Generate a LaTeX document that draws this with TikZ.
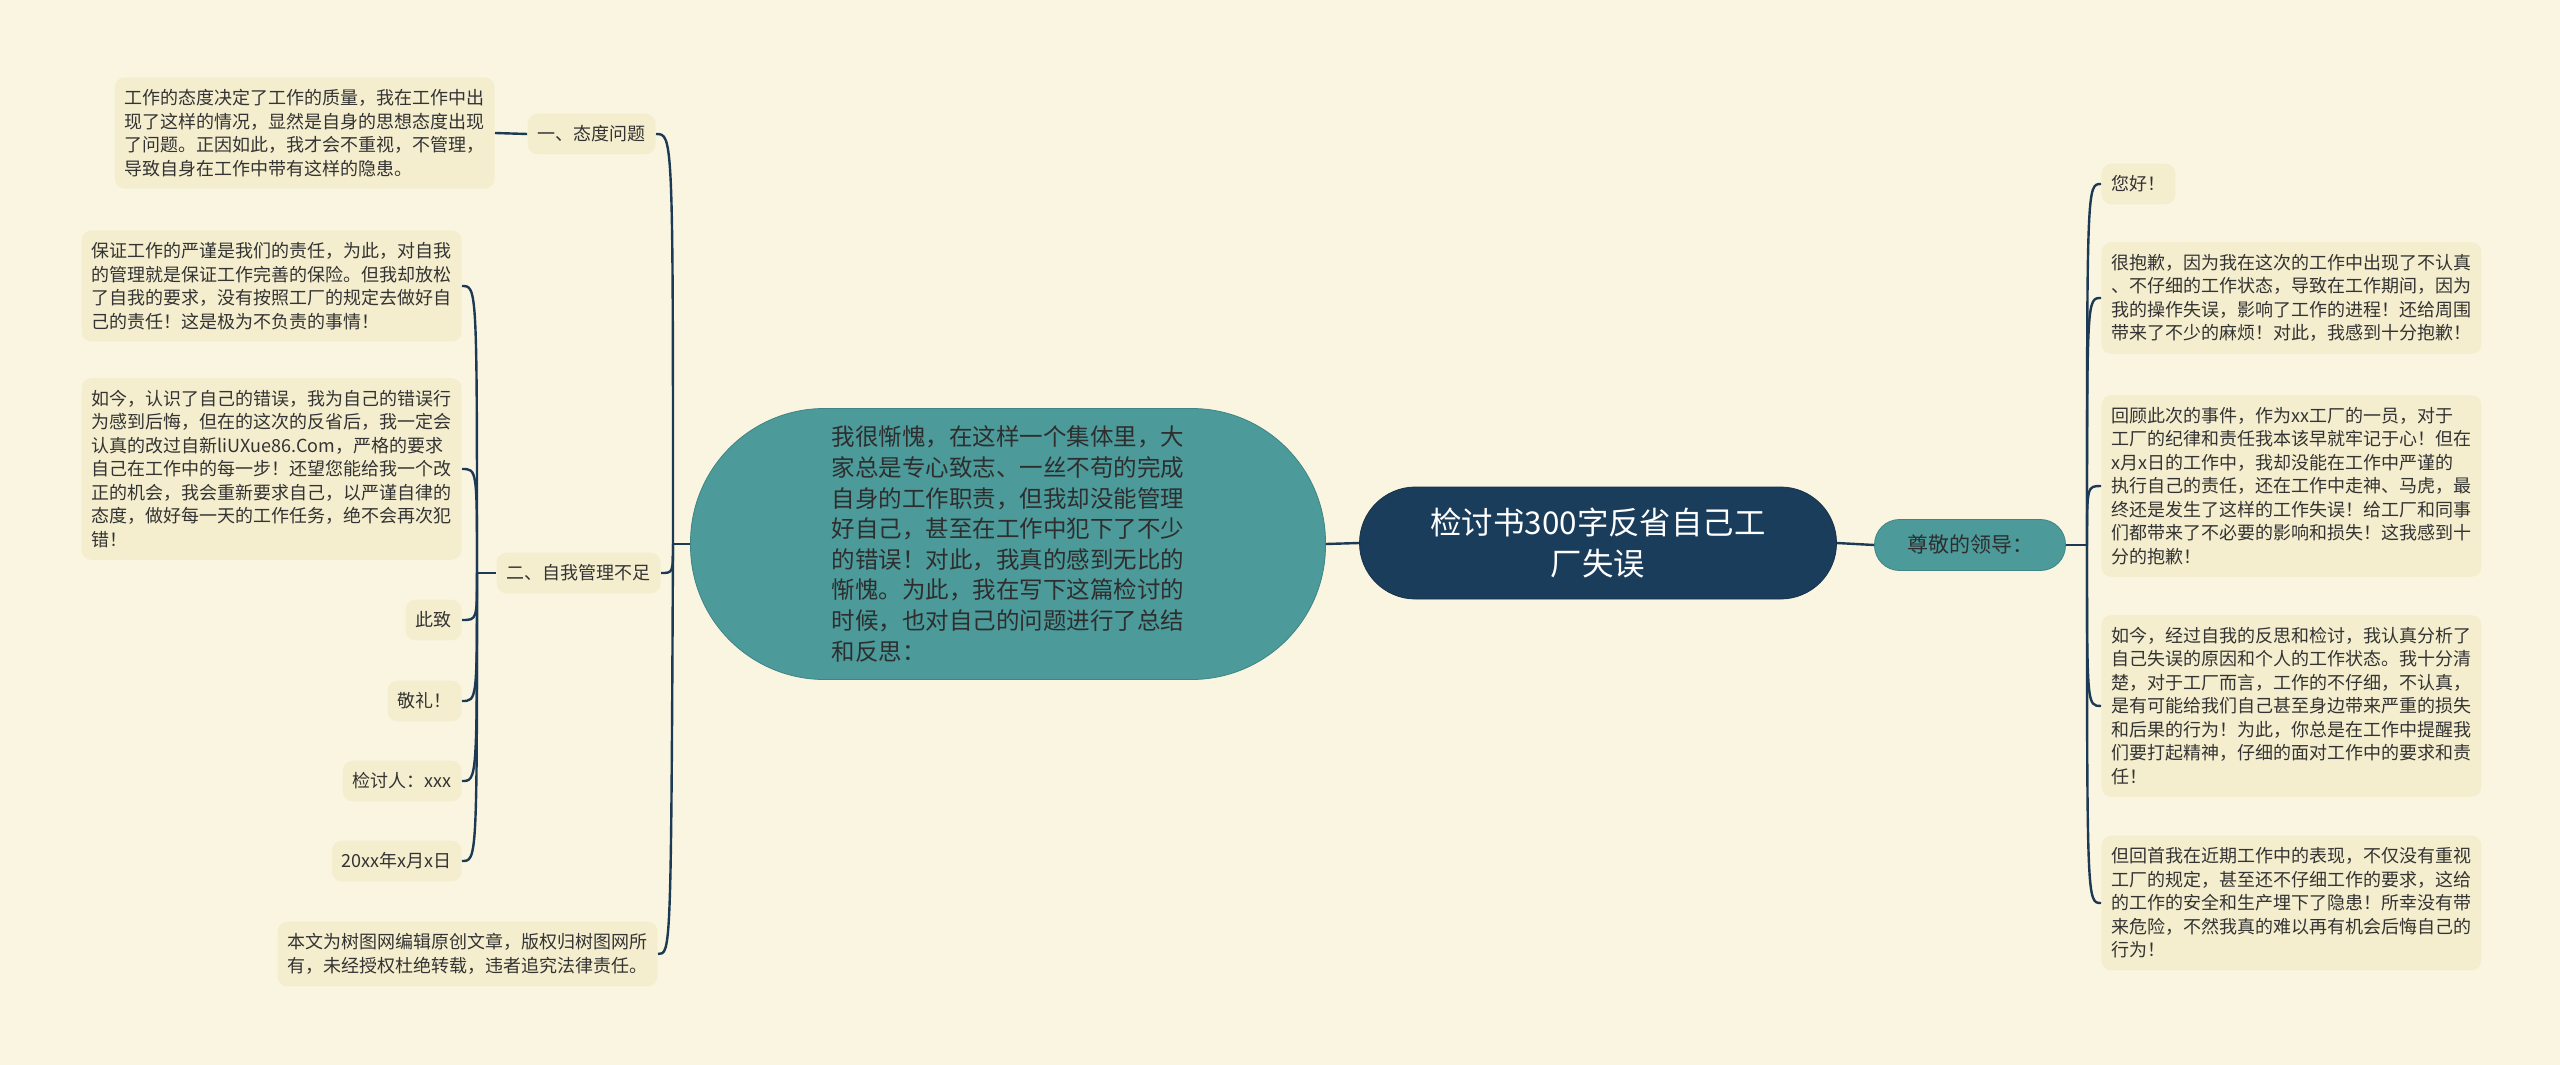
\documentclass[tikz,border=0pt]{standalone}
\usepackage{fontspec}
\setmainfont{Noto Sans CJK SC}
\definecolor{bgcream}{HTML}{FAF5E1}
\definecolor{leafbox}{HTML}{F4EECE}
\definecolor{rootblue}{HTML}{1B3D5C}
\definecolor{tealnode}{HTML}{4C9A9A}
\definecolor{tealedge}{HTML}{3F8585}
\definecolor{linknavy}{HTML}{1D3A55}
\definecolor{inktext}{HTML}{333333}
\tikzset{
  leaf/.style={fill=leafbox, rounded corners=5pt, inner xsep=5pt, inner ysep=6pt,
    align=left, text=inktext, font=\fontsize{9pt}{11.75pt}\selectfont},
  rootnode/.style={fill=rootblue, draw=rootblue!80!black, text=white, align=center,
    font=\fontsize{15.7pt}{20.5pt}\selectfont},
  tealbox/.style={fill=tealnode, draw=tealedge, text=inktext!90!black},
  link/.style={draw=linknavy, line width=1.2pt},
}

\begin{document}
\begin{tikzpicture}[x=0.5pt, y=-0.5pt]
  %%%%% START %%%%%
  \fill[bgcream] (0,0) rectangle (2560,1065);
  \useasboundingbox (0,0) rectangle (2560,1065);

  % centre
  \node[rootnode, minimum width=238.5pt, minimum height=56pt, rounded corners=28pt] (root) at (1598,543)
    {检讨书300字反省自己工\\厂失误};
  \node[tealbox, minimum width=317.5pt, minimum height=135.5pt, rounded corners=67pt, align=left,
    font=\fontsize{11.75pt}{15.3pt}\selectfont] (intro) at (1008,544)
    {我很惭愧，在这样一个集体里，大\\家总是专心致志、一丝不苟的完成\\自身的工作职责，但我却没能管理\\好自己，甚至在工作中犯下了不少\\的错误！对此，我真的感到无比的\\惭愧。为此，我在写下这篇检讨的\\时候，也对自己的问题进行了总结\\和反思：};
  \node[tealbox, minimum width=95.5pt, minimum height=25.5pt, rounded corners=12.5pt,
    font=\fontsize{10.5pt}{13pt}\selectfont] (greet) at (1970,545) {尊敬的领导：};

  % left side
  \node[leaf, anchor=east] (attitude) at (656,134) {一、态度问题};
  \node[leaf, anchor=east] (attitudetxt) at (495,133)
    {工作的态度决定了工作的质量，我在工作中出\\现了这样的情况，显然是自身的思想态度出现\\了问题。正因如此，我才会不重视，不管理，\\导致自身在工作中带有这样的隐患。};
  \node[leaf, anchor=east] (selfmgmt) at (661,573) {二、自我管理不足};
  \node[leaf, anchor=east] (duty) at (462,286)
    {保证工作的严谨是我们的责任，为此，对自我\\的管理就是保证工作完善的保险。但我却放松\\了自我的要求，没有按照工厂的规定去做好自\\己的责任！这是极为不负责的事情！};
  \node[leaf, anchor=east] (promise) at (462,469)
    {如今，认识了自己的错误，我为自己的错误行\\为感到后悔，但在的这次的反省后，我一定会\\认真的改过自新liUXue86.Com，严格的要求\\自己在工作中的每一步！还望您能给我一个改\\正的机会，我会重新要求自己，以严谨自律的\\态度，做好每一天的工作任务，绝不会再次犯\\错！};
  \node[leaf, anchor=east] (cizhi) at (462,620) {此致};
  \node[leaf, anchor=east] (jingli) at (462,701) {敬礼！};
  \node[leaf, anchor=east] (signer) at (462,781) {检讨人：xxx};
  \node[leaf, anchor=east] (date) at (462,861) {20xx年x月x日};
  \node[leaf, anchor=east] (notice) at (658,954)
    {本文为树图网编辑原创文章，版权归树图网所\\有，未经授权杜绝转载，违者追究法律责任。};

  % right side
  \node[leaf, anchor=west] (hello) at (2101,184) {您好！};
  \node[leaf, anchor=west] (sorry) at (2101,298)
    {很抱歉，因为我在这次的工作中出现了不认真\\、不仔细的工作状态，导致在工作期间，因为\\我的操作失误，影响了工作的进程！还给周围\\带来了不少的麻烦！对此，我感到十分抱歉！};
  \node[leaf, anchor=west] (review) at (2101,486)
    {回顾此次的事件，作为xx工厂的一员，对于\\工厂的纪律和责任我本该早就牢记于心！但在\\x月x日的工作中，我却没能在工作中严谨的\\执行自己的责任，还在工作中走神、马虎，最\\终还是发生了这样的工作失误！给工厂和同事\\们都带来了不必要的影响和损失！这我感到十\\分的抱歉！};
  \node[leaf, anchor=west] (analysis) at (2101,706)
    {如今，经过自我的反思和检讨，我认真分析了\\自己失误的原因和个人的工作状态。我十分清\\楚，对于工厂而言，工作的不仔细，不认真，\\是有可能给我们自己甚至身边带来严重的损失\\和后果的行为！为此，你总是在工作中提醒我\\们要打起精神，仔细的面对工作中的要求和责\\任！};
  \node[leaf, anchor=west] (lookback) at (2101,903)
    {但回首我在近期工作中的表现，不仅没有重视\\工厂的规定，甚至还不仔细工作的要求，这给\\的工作的安全和生产埋下了隐患！所幸没有带\\来危险，不然我真的难以再有机会后悔自己的\\行为！};

  % connectors
  \draw[link] (root.west) -- (intro.east);
  \draw[link] (root.east) -- (greet.west);

  \coordinate (ljoin) at (673,544);
  \draw[link] (intro.west) -- (ljoin);
  \draw[link] (ljoin) .. controls (673,134) .. (attitude.east);
  \draw[link] (ljoin) .. controls (673,573) .. (selfmgmt.east);
  \draw[link] (ljoin) .. controls (671,954) .. (notice.east);
  \draw[link] (attitudetxt.east) -- (attitude.west);

  \coordinate (ijoin) at (477,573);
  \draw[link] (selfmgmt.west) -- (ijoin);
  \foreach \kid/\ky in {duty/286, promise/469, cizhi/620, jingli/701, signer/781, date/861}
    \draw[link] (ijoin) .. controls (477,\ky) .. (\kid.east);

  \coordinate (rjoin) at (2087,545);
  \draw[link] (greet.east) -- (rjoin);
  \foreach \kid/\ky in {hello/184, sorry/298, review/486, analysis/706, lookback/903}
    \draw[link] (rjoin) .. controls (2087,\ky) .. (\kid.west);
  %%%%% END %%%%%
\end{tikzpicture}
\end{document}
